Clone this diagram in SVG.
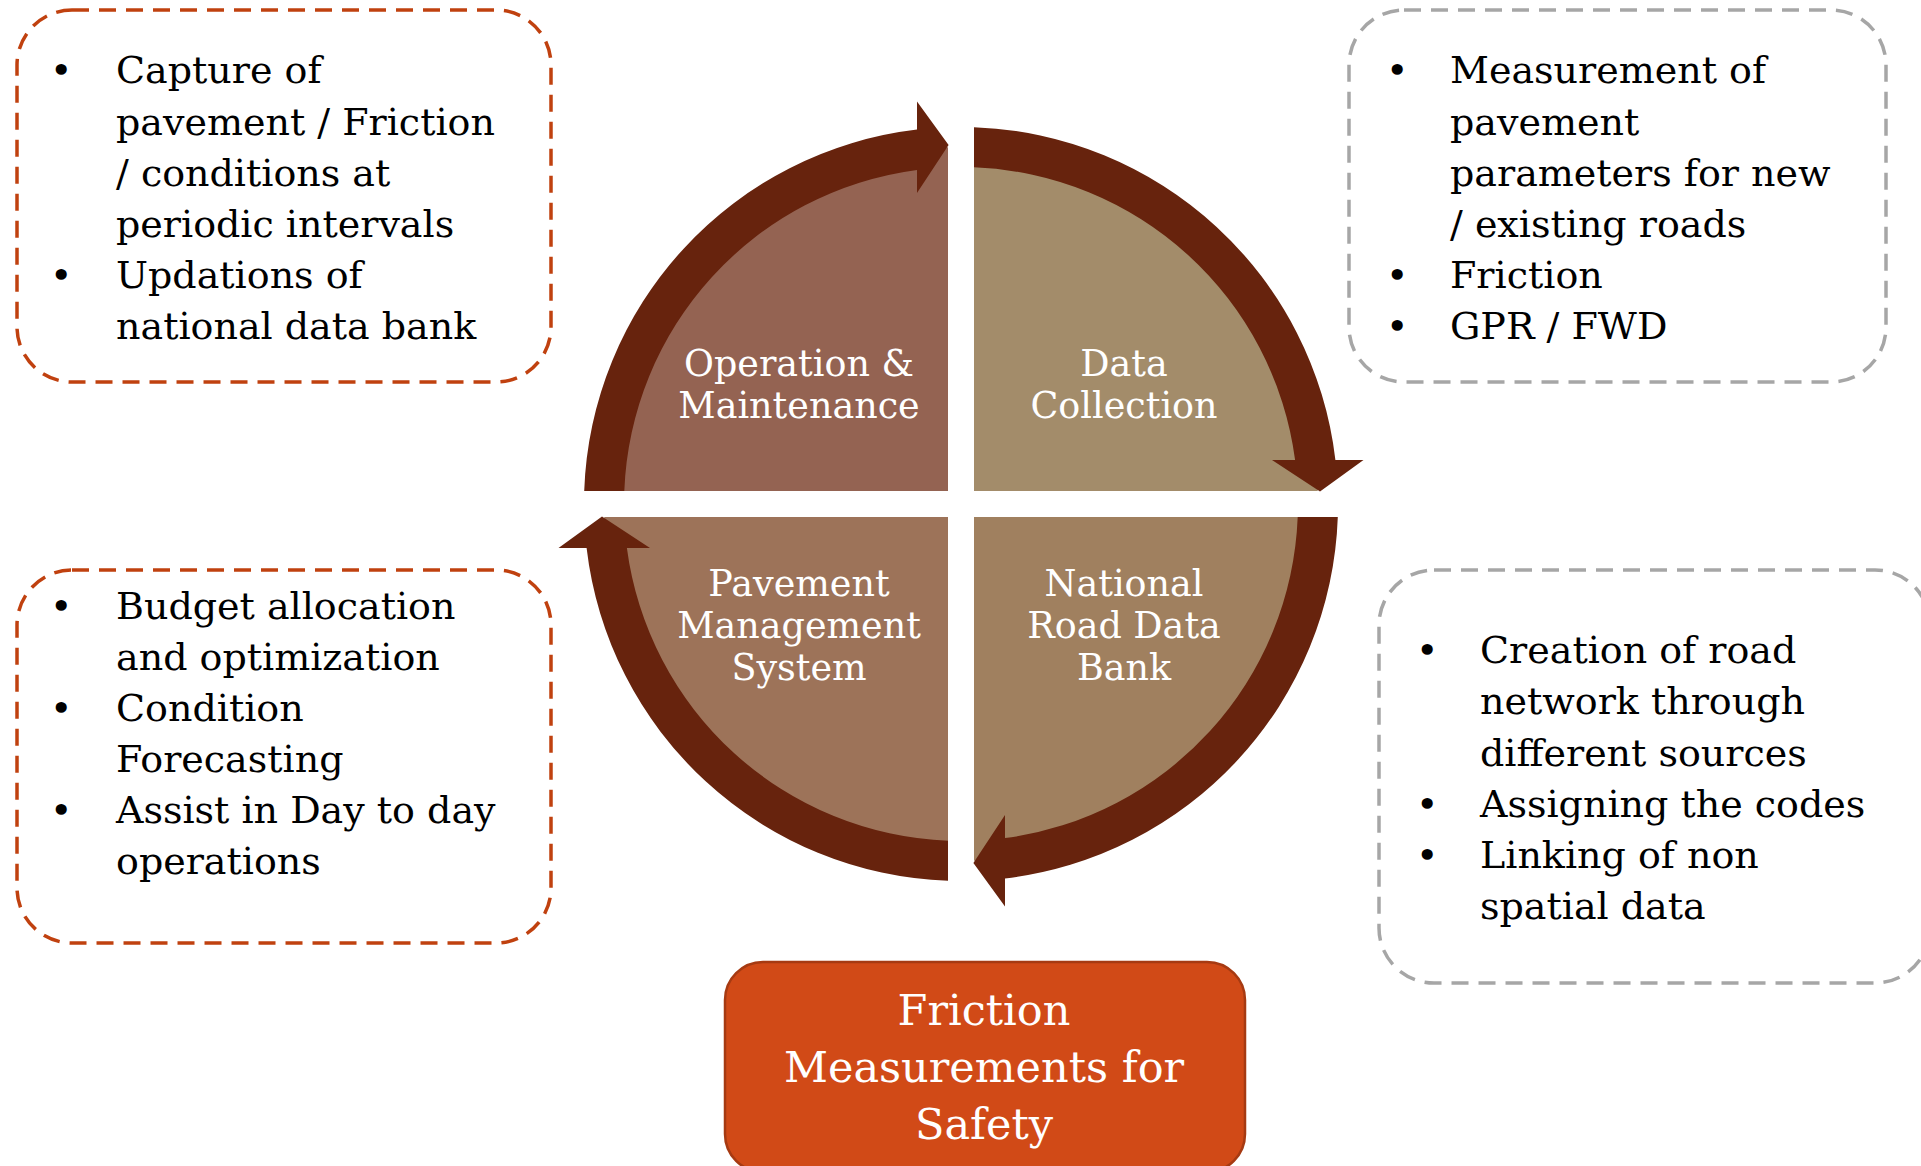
<svg xmlns="http://www.w3.org/2000/svg" width="1921" height="1166" viewBox="0 0 1921 1166">
  <style>
    .note { fill: none; stroke-width: 3.5; stroke-dasharray: 17 10; }
    .note-warm { stroke: #C0410F; }
    .note-grey { stroke: #A6A6A6; }
    .bt { font-family: "DejaVu Serif", "Liberation Serif", serif; font-size: 38px; fill: #000; }
    .ql { font-family: "DejaVu Serif", "Liberation Serif", serif; font-size: 36.5px; fill: #fff; text-anchor: middle; }
    .ft { font-family: "DejaVu Serif", "Liberation Serif", serif; font-size: 43px; fill: #fff; text-anchor: middle; }
    .ring { fill: #67230D; }
  </style>
  <defs>
    <!-- one curved arrow segment of the cycle, centred on the origin -->
    <path id="arc-arrow" d="M -376.8 -13 A 377 377 0 0 1 -44 -374.4 L -44 -402.5 L -12.4 -359 L -44 -311 L -44 -334.1 A 337 337 0 0 0 -336.7 -13 Z"/>
  </defs>

  <rect width="1921" height="1166" fill="#ffffff"/>

  <!-- note boxes -->
  <g id="note-operation">
    <rect class="note note-warm" x="17" y="10" width="534" height="372" rx="55" ry="55"/>
    <text class="bt"><tspan x="50" y="83">•</tspan><tspan x="116" y="83">Capture of</tspan><tspan x="116" y="135">pavement / Friction</tspan><tspan x="116" y="186">/ conditions at</tspan><tspan x="116" y="237">periodic intervals</tspan><tspan x="50" y="288">•</tspan><tspan x="116" y="288">Updations of</tspan><tspan x="116" y="339">national data bank</tspan></text>
  </g>

  <g id="note-data-collection">
    <rect class="note note-grey" x="1349" y="10" width="537" height="372" rx="55" ry="55"/>
    <text class="bt"><tspan x="1386" y="83">•</tspan><tspan x="1450" y="83">Measurement of</tspan><tspan x="1450" y="135">pavement</tspan><tspan x="1450" y="186">parameters for new</tspan><tspan x="1450" y="237">/ existing roads</tspan><tspan x="1386" y="288">•</tspan><tspan x="1450" y="288">Friction</tspan><tspan x="1386" y="339">•</tspan><tspan x="1450" y="339">GPR / FWD</tspan></text>
  </g>

  <g id="note-pms">
    <rect class="note note-warm" x="17" y="570" width="534" height="373" rx="55" ry="55"/>
    <text class="bt"><tspan x="50" y="619">•</tspan><tspan x="116" y="619">Budget allocation</tspan><tspan x="116" y="670">and optimization</tspan><tspan x="50" y="721">•</tspan><tspan x="116" y="721">Condition</tspan><tspan x="116" y="772">Forecasting</tspan><tspan x="50" y="823">•</tspan><tspan x="116" y="823">Assist in Day to day</tspan><tspan x="116" y="874">operations</tspan></text>
  </g>

  <g id="note-road-data-bank">
    <rect class="note note-grey" x="1379" y="570" width="551" height="413" rx="55" ry="55"/>
    <text class="bt"><tspan x="1416" y="663">•</tspan><tspan x="1480" y="663">Creation of road</tspan><tspan x="1480" y="714">network through</tspan><tspan x="1480" y="766">different sources</tspan><tspan x="1416" y="817">•</tspan><tspan x="1480" y="817">Assigning the codes</tspan><tspan x="1416" y="868">•</tspan><tspan x="1480" y="868">Linking of non</tspan><tspan x="1480" y="919">spatial data</tspan></text>
  </g>

  <!-- cycle quadrants -->
  <g transform="translate(961 504)">
    <g id="node-operation">
      <path d="M -13 -13 L -13 -356.76 A 357 357 0 0 0 -356.76 -13 Z" fill="#946352"/>
      <text class="ql"><tspan x="-162" y="-128">Operation &amp;</tspan><tspan x="-162" y="-86">Maintenance</tspan></text>
    </g>
    <g id="node-data-collection">
      <path d="M 13 -13 L 13 -356.76 A 357 357 0 0 1 356.76 -13 Z" fill="#A38C6A"/>
      <text class="ql"><tspan x="163" y="-128">Data</tspan><tspan x="163" y="-86">Collection</tspan></text>
    </g>
    <g id="node-road-data-bank">
      <path d="M 13 13 L 356.76 13 A 357 357 0 0 1 13 356.76 Z" fill="#A0805F"/>
      <text class="ql"><tspan x="163" y="92">National</tspan><tspan x="163" y="134">Road Data</tspan><tspan x="163" y="176">Bank</tspan></text>
    </g>
    <g id="node-pms">
      <path d="M -13 13 L -13 356.76 A 357 357 0 0 1 -356.76 13 Z" fill="#9D7359"/>
      <text class="ql"><tspan x="-162" y="92">Pavement</tspan><tspan x="-162" y="134">Management</tspan><tspan x="-162" y="176">System</tspan></text>
    </g>

    <!-- clockwise cycle arrows -->
    <g id="connectors" class="ring">
      <use href="#arc-arrow"/>
      <use href="#arc-arrow" transform="rotate(90)"/>
      <use href="#arc-arrow" transform="rotate(180)"/>
      <use href="#arc-arrow" transform="rotate(270)"/>
    </g>
  </g>

  <!-- headline box -->
  <g id="node-friction">
    <rect x="725" y="962" width="520" height="210" rx="38" ry="38" fill="#D14A17" stroke="#A63A12" stroke-width="2.5"/>
    <text class="ft"><tspan x="984" y="1025">Friction</tspan><tspan x="984" y="1082">Measurements for</tspan><tspan x="984" y="1139">Safety</tspan></text>
  </g>
</svg>
